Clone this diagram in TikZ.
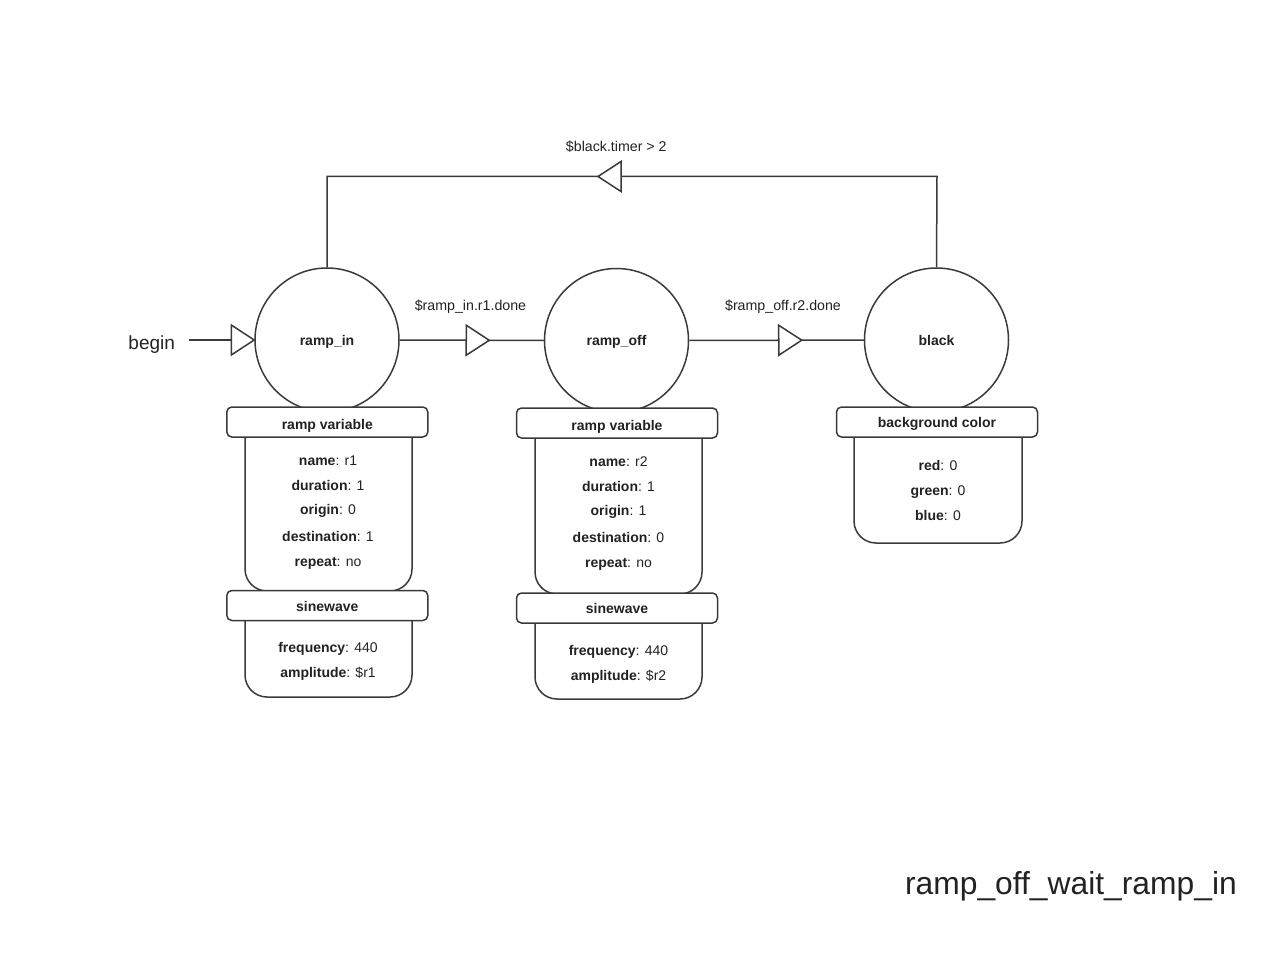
\documentclass[tikz,border=0pt]{standalone}
\usepackage{fontspec}
\setmainfont{Liberation Sans}
\usetikzlibrary{arrows.meta,decorations.markings}
\definecolor{ln}{HTML}{3A3A3A}
\definecolor{tx}{HTML}{222222}
\tikzset{
  state/.style={circle,draw=ln,line width=1.5pt,minimum size=144pt,inner sep=0pt},
  statetext/.style={anchor=base,inner sep=0pt,text=tx,font=\fontsize{14}{17}\selectfont\bfseries},
  hdr/.style={draw=ln,fill=white,line width=1.5pt,rounded corners=5pt,minimum width=201pt,minimum height=30pt,inner sep=0pt},
  hdrtext/.style={anchor=base,inner sep=0pt,text=tx,font=\fontsize{14}{17}\selectfont\bfseries},
  bodyarea/.style={draw=none,inner sep=0pt,outer sep=0pt,minimum width=167pt},
  bodyline/.style={draw=ln,line width=1.5pt,rounded corners=22pt},
  item/.style={anchor=base,inner sep=0pt,text=tx,font=\fontsize{14}{17}\selectfont},
  lbl/.style={anchor=base,inner sep=0pt,text=tx,font=\fontsize{14.2}{17}\selectfont},
  conn/.style={draw=ln,line width=1.5pt},
  midtri/.style={postaction={decorate},decoration={markings,mark=at position #1 with {\draw[ln,line width=1.5pt,fill=white,line join=miter] (-23pt,15pt) -- (0pt,0pt) -- (-23pt,-15pt) -- cycle;}}},
}
\begin{document}
\begin{tikzpicture}[x=1pt,y=-1pt]
\useasboundingbox (0,0) rectangle (1280,960);

% states
\node[state] (ramp_in) at (327,340) {};
\node[state] (ramp_off) at (616.5,340.5) {};
\node[state] (black) at (936.5,340) {};
\node[statetext] (t_ramp_in) at (327,345) {ramp\_in};
\node[statetext] (t_ramp_off) at (616.5,345.5) {ramp\_off};
\node[statetext] (t_black) at (936.5,345.5) {black};

% begin
\node[anchor=base,inner sep=0pt,text=tx,font=\fontsize{19}{22}\selectfont] (begin) at (151.7,349) {begin};
\draw[conn,shorten <=14pt,midtri=1] (begin.east |- ramp_in.west) -- (ramp_in.west);

% transitions
\draw[conn,midtri=89.5pt] (ramp_in.east) -- (ramp_off.west);
\node[lbl] (l1) at (470.5,310.5) {\$ramp\_in.r1.done};
\draw[conn,midtri=112.5pt] (ramp_off.east) -- (black.west);
\node[lbl] (l2) at (783,310) {\$ramp\_off.r2.done};

\coordinate (rt) at (937,176.5);
\coordinate (lt) at (327,176.5);
\draw[conn] (black.north) -- (rt) -- (lt) -- (ramp_in.north);
\path[midtri=339pt] (rt) -- (lt);
\node[lbl] (l3) at (616.3,151.7) {\$black.timer > 2};

% ramp_in bodies
\node[bodyarea,minimum height=154pt] (b1) at (328.5,514) {};
\draw[bodyline] (b1.north west) -- (b1.south west) -- (b1.south east) -- (b1.north east);
\node[bodyarea,minimum height=76pt] (b2) at (328.5,659) {};
\draw[bodyline] (b2.north west) -- (b2.south west) -- (b2.south east) -- (b2.north east);
\node[hdr] (h1) at (327.3,422) {};
\node[hdrtext] (ht1) at (327.3,429) {ramp variable};
\node[hdr] (h2) at (327.3,605.5) {};
\node[hdrtext] (ht2) at (327.3,611.7) {sinewave};
\node[item] (i11) at (328,465.7) {\textbf{name}: r1};
\node[item] (i12) at (328,490) {\textbf{duration}: 1};
\node[item] (i13) at (328,514) {\textbf{origin}: 0};
\node[item] (i14) at (328,541.7) {\textbf{destination}: 1};
\node[item] (i15) at (328,566.7) {\textbf{repeat}: no};
\node[item] (i16) at (328,652) {\textbf{frequency}: 440};
\node[item] (i17) at (328,677) {\textbf{amplitude}: \$r1};

% ramp_off bodies
\node[bodyarea,minimum height=156pt] (b3) at (618.5,516) {};
\draw[bodyline] (b3.north west) -- (b3.south west) -- (b3.south east) -- (b3.north east);
\node[bodyarea,minimum height=76pt] (b4) at (618.5,661) {};
\draw[bodyline] (b4.north west) -- (b4.south west) -- (b4.south east) -- (b4.north east);
\node[hdr] (h3) at (617,423) {};
\node[hdrtext] (ht3) at (617,430) {ramp variable};
\node[hdr] (h4) at (617,608) {};
\node[hdrtext] (ht4) at (617,613) {sinewave};
\node[item] (i21) at (618.5,466) {\textbf{name}: r2};
\node[item] (i22) at (618.5,491.7) {\textbf{duration}: 1};
\node[item] (i23) at (618.5,515) {\textbf{origin}: 1};
\node[item] (i24) at (618.5,542.7) {\textbf{destination}: 0};
\node[item] (i25) at (618.5,567.3) {\textbf{repeat}: no};
\node[item] (i26) at (618.5,655) {\textbf{frequency}: 440};
\node[item] (i27) at (618.5,680) {\textbf{amplitude}: \$r2};

% black bodies
\node[bodyarea,minimum width=168pt,minimum height=106pt] (b5) at (938,490) {};
\draw[bodyline] (b5.north west) -- (b5.south west) -- (b5.south east) -- (b5.north east);
\node[hdr] (h5) at (937,422) {};
\node[hdrtext] (ht5) at (937,427) {background color};
\node[item] (i31) at (938,470) {\textbf{red}: 0};
\node[item] (i32) at (938,495) {\textbf{green}: 0};
\node[item] (i33) at (938,520) {\textbf{blue}: 0};

% title
\node[anchor=base east,inner sep=0pt,text=tx,font=\fontsize{31.8}{36}\selectfont] (title) at (1237,894) {ramp\_off\_wait\_ramp\_in};
\end{tikzpicture}
\end{document}
